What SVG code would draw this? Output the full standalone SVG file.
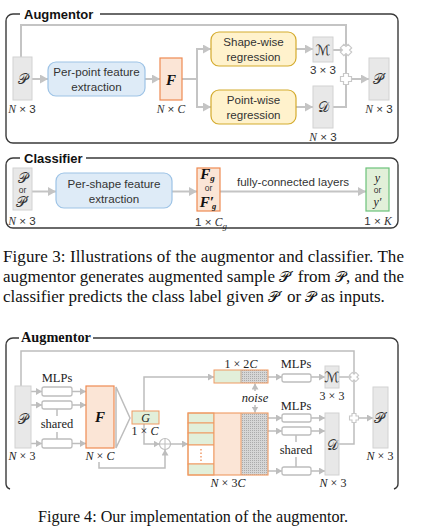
<svg xmlns="http://www.w3.org/2000/svg" width="428" height="528" viewBox="0 0 428 528">
<style>
.bg{fill:#fff}
.frame{fill:none;stroke:#3a3a3a;stroke-width:1.4}
.title3{font-family:"Liberation Sans",Arial,sans-serif;font-weight:bold;font-size:13px;fill:#111}
.title4{font-family:"Liberation Serif","Times New Roman",serif;font-weight:bold;font-size:14.3px;fill:#111}
.c3{fill:none;stroke:#c4c4c4;stroke-width:2}
.c4{fill:none;stroke:#bdbdbd;stroke-width:1.5}
.gbox{fill:#e8e8e8;stroke:#d2d2d2;stroke-width:1}
.blue{fill:#deebf7;stroke:#9dc3e6;stroke-width:1.2}
.yel{fill:#fff2cc;stroke:#d4ab2e;stroke-width:1.2}
.org{fill:#fbe5d6;stroke:#ef8a52;stroke-width:1.2}
.grn{fill:#e2f0d9;stroke:#6cc27a;stroke-width:1.2}
.cell{fill:#e2efda;stroke:#ef9a62;stroke-width:1}
.mlp{fill:#fff;stroke:#bdbdbd;stroke-width:1.3}
.s{font-family:"Liberation Sans",Arial,sans-serif;font-size:11.6px;fill:#333;text-anchor:middle}
.sm{font-family:"Liberation Sans",Arial,sans-serif;font-size:8.5px;fill:#333;text-anchor:middle}
.m{font-family:"Liberation Serif","Times New Roman",serif;font-size:12px;fill:#222;text-anchor:middle}
.t{font-family:"Liberation Serif","Times New Roman",serif;font-size:12.5px;fill:#222;text-anchor:middle}
.scr{font-family:"DejaVu Serif","DejaVu Sans","Noto Sans",serif;font-size:14px;fill:#333;text-anchor:middle}
.bf{font-family:"Liberation Serif","Times New Roman",serif;font-weight:bold;font-style:italic;font-size:15px;fill:#111;text-anchor:middle}
.it{font-style:italic}
.cap{font-family:"Liberation Serif","Times New Roman",serif;font-size:17px;fill:#111}
</style>
<defs>
<marker id="a3" markerUnits="userSpaceOnUse" markerWidth="9" markerHeight="9" refX="8" refY="4.5" orient="auto"><path d="M0,0 L8,4.5 L0,9 Z" fill="#c4c4c4"/></marker>
<marker id="a4" markerUnits="userSpaceOnUse" markerWidth="7" markerHeight="7" refX="6" refY="3.5" orient="auto"><path d="M0,0 L6,3.5 L0,7 Z" fill="#bdbdbd"/></marker>
<path id="plus" d="M-2.5,-5.5 H2.5 V-2.5 H5.5 V2.5 H2.5 V5.5 H-2.5 V2.5 H-5.5 V-2.5 H-2.5 Z" fill="#fff" stroke="#c8c8c8" stroke-width="1.2"/>
<path id="plus4" d="M-2,-4.5 H2 V-2 H4.5 V2 H2 V4.5 H-2 V2 H-4.5 V-2 H-2 Z" fill="#fff" stroke="#c8c8c8" stroke-width="1.1"/>
<pattern id="dots" width="2" height="2" patternUnits="userSpaceOnUse"><rect width="2" height="2" fill="#d6d6d6"/><rect width="1" height="1" fill="#ababab"/></pattern>
</defs>
<rect class="bg" width="428" height="528"/>

<!-- ===== Figure 3: Augmentor ===== -->
<g id="fig3-aug-frame">
<path class="frame" d="M20 14 H13 A7 7 0 0 0 6 21 V136 A7 7 0 0 0 13 143 H391 A7 7 0 0 0 398 136 V21 A7 7 0 0 0 391 14 H100"/>
<text class="title3" x="24" y="18.5">Augmentor</text>
</g>
<g id="fig3-aug-connectors">
<path class="c3" d="M21 57 V25 H346 V50"/>
<path class="c3" marker-end="url(#a3)" d="M32 79 H48"/>
<path class="c3" marker-end="url(#a3)" d="M145 79 H160"/>
<path class="c3" d="M182 79 H197 M197 49 V107"/>
<path class="c3" marker-end="url(#a3)" d="M196 49 H211"/>
<path class="c3" marker-end="url(#a3)" d="M196 107 H211"/>
<path class="c3" marker-end="url(#a3)" d="M296 49 H313"/>
<path class="c3" marker-end="url(#a3)" d="M296 107 H313"/>
<path class="c3" d="M333 50 H346 V79 M333 107 H346 V79"/>
<path class="c3" marker-end="url(#a3)" d="M346 79 H369"/>
<use href="#plus" transform="translate(346,50) rotate(45)"/>
<use href="#plus" transform="translate(346,79)"/>
</g>
<g id="fig3-P">
<rect class="gbox" x="13" y="57" width="19" height="43"/>
<text class="scr" x="22.5" y="84">𝒫</text>
<text class="s" x="22" y="113"><tspan class="it" font-family="Liberation Serif">N</tspan> × 3</text>
</g>
<g id="fig3-perpoint">
<rect class="blue" x="48" y="62" width="97" height="34" rx="8"/>
<text class="s" x="96.5" y="75.7">Per-point feature</text>
<text class="s" x="96.5" y="91.3">extraction</text>
</g>
<g id="fig3-F">
<rect class="org" x="160" y="58" width="22" height="42"/>
<text class="bf" x="171" y="84.5">F</text>
<text class="s" x="171" y="113"><tspan class="it" font-family="Liberation Serif">N</tspan> × <tspan class="it" font-family="Liberation Serif">C</tspan></text>
</g>
<g id="fig3-shapewise">
<rect class="yel" x="211" y="32" width="85" height="34" rx="8"/>
<text class="s" x="253.5" y="46.3">Shape-wise</text>
<text class="s" x="253.5" y="61.3">regression</text>
</g>
<g id="fig3-pointwise">
<rect class="yel" x="211" y="90" width="85" height="34" rx="8"/>
<text class="s" x="253.5" y="104">Point-wise</text>
<text class="s" x="253.5" y="119">regression</text>
</g>
<g id="fig3-M">
<rect class="gbox" x="313" y="37" width="20" height="25"/>
<text class="scr" x="323" y="54.5" font-size="13">ℳ</text>
<text class="s" x="323" y="74">3 × 3</text>
</g>
<g id="fig3-D">
<rect class="gbox" x="313" y="86" width="20" height="42"/>
<text class="scr" x="323" y="112">𝒟</text>
<text class="s" x="323" y="141"><tspan class="it" font-family="Liberation Serif">N</tspan> × 3</text>
</g>
<g id="fig3-Pp">
<rect class="gbox" x="369" y="58" width="20" height="42"/>
<text class="scr" x="379.5" y="84">𝒫′</text>
<text class="s" x="379" y="113"><tspan class="it" font-family="Liberation Serif">N</tspan> × 3</text>
</g>

<!-- ===== Figure 3: Classifier ===== -->
<g id="fig3-cls-frame">
<path class="frame" d="M20 158 H13 A7 7 0 0 0 6 165 V221 A7 7 0 0 0 13 228 H391 A7 7 0 0 0 398 221 V165 A7 7 0 0 0 391 158 H86"/>
<text class="title3" x="24" y="162.5">Classifier</text>
</g>
<g id="fig3-cls-connectors">
<path class="c3" marker-end="url(#a3)" d="M32 191.5 H56"/>
<path class="c3" marker-end="url(#a3)" d="M172 191.5 H197"/>
<path class="c3" marker-end="url(#a3)" d="M220 191.5 H366"/>
<text class="s" x="293" y="185.5">fully-connected layers</text>
</g>
<g id="fig3-cls-P">
<rect class="gbox" x="13" y="168" width="19" height="42"/>
<text class="scr" x="22.5" y="182.5" font-size="13">𝒫</text>
<text class="sm" x="22.5" y="192.5">or</text>
<text class="scr" x="22.5" y="207" font-size="13">𝒫′</text>
<text class="s" x="22" y="225"><tspan class="it" font-family="Liberation Serif">N</tspan> × 3</text>
</g>
<g id="fig3-pershape">
<rect class="blue" x="56" y="173" width="116" height="35" rx="8"/>
<text class="s" x="114" y="187.5">Per-shape feature</text>
<text class="s" x="114" y="202.5">extraction</text>
</g>
<g id="fig3-Fg">
<rect class="org" x="197" y="168" width="23" height="43"/>
<text class="bf" x="207.5" y="179" font-size="13">F<tspan font-size="9" dy="2.3">g</tspan></text>
<text class="sm" x="208.5" y="190.5">or</text>
<text class="bf" x="208" y="207" font-size="12">F′<tspan font-size="8.5" dx="-2" dy="1.5">g</tspan></text>
<text class="s" x="211" y="226">1 × <tspan class="it" font-family="Liberation Serif">C</tspan><tspan class="it" font-family="Liberation Serif" font-size="9" dy="2.5">g</tspan></text>
</g>
<g id="fig3-y">
<rect class="grn" x="366" y="168" width="23" height="43"/>
<text class="m it" x="377.5" y="182" font-size="14">y</text>
<text class="sm" x="377.5" y="193">or</text>
<text class="m it" x="377.5" y="206" font-size="14">y′</text>
<text class="s" x="378" y="225">1 × <tspan class="it" font-family="Liberation Serif">K</tspan></text>
</g>

<!-- Figure 3 caption -->
<g id="caption3">
<text class="cap" x="3" y="262" textLength="401" lengthAdjust="spacing">Figure 3: Illustrations of the augmentor and classifier. The</text>
<text class="cap" x="3" y="282" textLength="401" lengthAdjust="spacing">augmentor generates augmented sample <tspan font-family="DejaVu Serif,serif" font-size="15">𝒫′</tspan> from <tspan font-family="DejaVu Serif,serif" font-size="15">𝒫</tspan>, and the</text>
<text class="cap" x="3" y="302">classifier predicts the class label given <tspan font-family="DejaVu Serif,serif" font-size="15">𝒫′</tspan> or <tspan font-family="DejaVu Serif,serif" font-size="15">𝒫</tspan> as inputs.</text>
</g>

<!-- ===== Figure 4 ===== -->
<g id="fig4-frame">
<path class="frame" d="M19 338 H13 A7 7 0 0 0 6 345 V483 A6 6 0 0 0 10 489"/>
<path class="frame" d="M93 338 H391 A7 7 0 0 1 398 345 V483 A6 6 0 0 1 394 489"/>
<text class="title4" x="21" y="342">Augmentor</text>
</g>
<g id="fig4-connectors">
<path class="c4" d="M21 386 V351 H354 V377"/>
<path class="c4" marker-end="url(#a4)" d="M31 391.5 H42"/>
<path class="c4" marker-end="url(#a4)" d="M31 405 H42"/>
<path class="c4" marker-end="url(#a4)" d="M31 443.5 H42"/>
<path class="c4" marker-end="url(#a4)" d="M72 391.5 H86"/>
<path class="c4" marker-end="url(#a4)" d="M72 405 H86"/>
<path class="c4" marker-end="url(#a4)" d="M72 443.5 H86"/>
<path class="c4" d="M57 409 V416 M57 432 V439"/>
<path class="c4" marker-end="url(#a4)" d="M144 411 V377 H214"/>
<path class="c4" marker-end="url(#a4)" d="M144 424 V444 H159.5"/>
<path class="c4" marker-end="url(#a4)" d="M99 462 V468 H165 V449.5"/>
<path class="c4" marker-end="url(#a4)" d="M170.5 444 H188"/>
<path class="c4" marker-end="url(#a4)" d="M255 391 V383.5"/>
<path class="c4" marker-end="url(#a4)" d="M255 405 V412.5"/>
<path class="c4" marker-end="url(#a4)" d="M268 377 H282"/>
<path class="c4" marker-end="url(#a4)" d="M311 377 H325"/>
<path class="c4" d="M339 377 H354 V418"/>
<path class="c4" marker-end="url(#a4)" d="M268 418 H282"/>
<path class="c4" marker-end="url(#a4)" d="M268 431 H282"/>
<path class="c4" marker-end="url(#a4)" d="M268 471 H282"/>
<path class="c4" marker-end="url(#a4)" d="M311 418 H325"/>
<path class="c4" marker-end="url(#a4)" d="M311 431 H325"/>
<path class="c4" marker-end="url(#a4)" d="M311 471 H325"/>
<path class="c4" d="M296 435 V442 M296 457 V467"/>
<path class="c4" d="M339 444 H354 V418"/>
<path class="c4" marker-end="url(#a4)" d="M354 418 H373"/>
<use href="#plus4" transform="translate(354,377) rotate(45)"/>
<use href="#plus4" transform="translate(354,418)"/>
<g id="oplus"><circle cx="165" cy="444" r="5.5" fill="#fff" stroke="#bdbdbd" stroke-width="1.2"/><path d="M159.5 444 H170.5 M165 438.5 V449.5" stroke="#bdbdbd" stroke-width="1"/></g>
</g>
<g id="fig4-P">
<rect class="gbox" x="15" y="386" width="16" height="62"/>
<text class="scr" x="23" y="424" font-size="13">𝒫</text>
<text class="m" x="22" y="460"><tspan class="it">N</tspan> × 3</text>
</g>
<g id="fig4-mlp1">
<text class="t" x="57" y="382">MLPs</text>
<rect class="mlp" x="42" y="387" width="30" height="9" rx="2"/>
<rect class="mlp" x="42" y="401" width="30" height="8" rx="2"/>
<rect class="mlp" x="42" y="439" width="30" height="9" rx="2"/>
<text class="t" x="57" y="428">shared</text>
</g>
<g id="fig4-F">
<rect class="org" x="86" y="386" width="28" height="62"/>
<text class="bf" x="100" y="422">F</text>
<text class="m" x="100" y="460"><tspan class="it">N</tspan> × <tspan class="it">C</tspan></text>
</g>
<g id="fig4-pool">
<polygon points="116,387 130,418 116,448" fill="#fff" stroke="#bdbdbd" stroke-width="1.5"/>
</g>
<g id="fig4-G">
<rect class="cell" x="132" y="411" width="27" height="13"/>
<text class="m it" x="145.5" y="421.5" font-size="13">G</text>
<text class="m" x="145" y="435">1 × <tspan class="it">C</tspan></text>
</g>
<g id="fig4-vec2C">
<rect x="214" y="370" width="27" height="13" fill="#e2efda"/>
<rect x="241" y="370" width="27" height="13" fill="url(#dots)"/>
<rect x="214" y="370" width="54" height="13" fill="none" stroke="#ef9a62" stroke-width="1"/>
<line x1="241" y1="370" x2="241" y2="383" stroke="#c9a58a" stroke-width="1"/>
<text class="m" x="241" y="368">1 × 2<tspan class="it">C</tspan></text>
</g>
<g id="fig4-noise">
<text class="t it" x="255" y="401.5">noise</text>
</g>
<g id="fig4-mat">
<rect class="cell" x="188" y="413" width="26" height="10"/>
<rect class="cell" x="188" y="423" width="26" height="10"/>
<rect class="cell" x="188" y="433" width="26" height="12"/>
<rect x="188" y="445" width="26" height="19" fill="#fff" stroke="#ef9a62" stroke-width="1"/>
<rect class="cell" x="188" y="464" width="26" height="11"/>
<line x1="201" y1="449" x2="201" y2="461" stroke="#ef8a52" stroke-width="1.3" stroke-dasharray="1.5,2"/>
<rect x="214" y="413" width="27" height="62" fill="#fbe5d6"/>
<rect x="241" y="413" width="27" height="62" fill="url(#dots)"/>
<rect x="188" y="413" width="80" height="62" fill="none" stroke="#ef9a62" stroke-width="1.1"/>
<line x1="214" y1="413" x2="214" y2="475" stroke="#ef9a62" stroke-width="1"/>
<line x1="241" y1="413" x2="241" y2="475" stroke="#ef9a62" stroke-width="1"/>
<text class="m" x="228" y="487"><tspan class="it">N</tspan> × 3<tspan class="it">C</tspan></text>
</g>
<g id="fig4-mlp2">
<text class="t" x="296" y="368">MLPs</text>
<rect class="mlp" x="282" y="374" width="29" height="8" rx="2"/>
</g>
<g id="fig4-M">
<rect class="gbox" x="325" y="366" width="14" height="22"/>
<text class="scr" x="332" y="381.5" font-size="12">ℳ</text>
<text class="m" x="332" y="400">3 × 3</text>
</g>
<g id="fig4-mlp3">
<text class="t" x="296" y="410">MLPs</text>
<rect class="mlp" x="282" y="414" width="29" height="8" rx="2"/>
<rect class="mlp" x="282" y="427" width="29" height="8" rx="2"/>
<rect class="mlp" x="282" y="467" width="29" height="8" rx="2"/>
<text class="t" x="296" y="454">shared</text>
</g>
<g id="fig4-D">
<rect class="gbox" x="325" y="413" width="14" height="62"/>
<text class="scr" x="332" y="450" font-size="12">𝒟</text>
<text class="m" x="333" y="487"><tspan class="it">N</tspan> × 3</text>
</g>
<g id="fig4-Pp">
<rect class="gbox" x="373" y="387" width="15" height="61"/>
<text class="scr" x="381" y="423" font-size="13">𝒫′</text>
<text class="m" x="380" y="460"><tspan class="it">N</tspan> × 3</text>
</g>
<g id="caption4">
<text class="cap" x="38" y="522" textLength="310" lengthAdjust="spacingAndGlyphs">Figure 4: Our implementation of the augmentor.</text>
</g>
</svg>
